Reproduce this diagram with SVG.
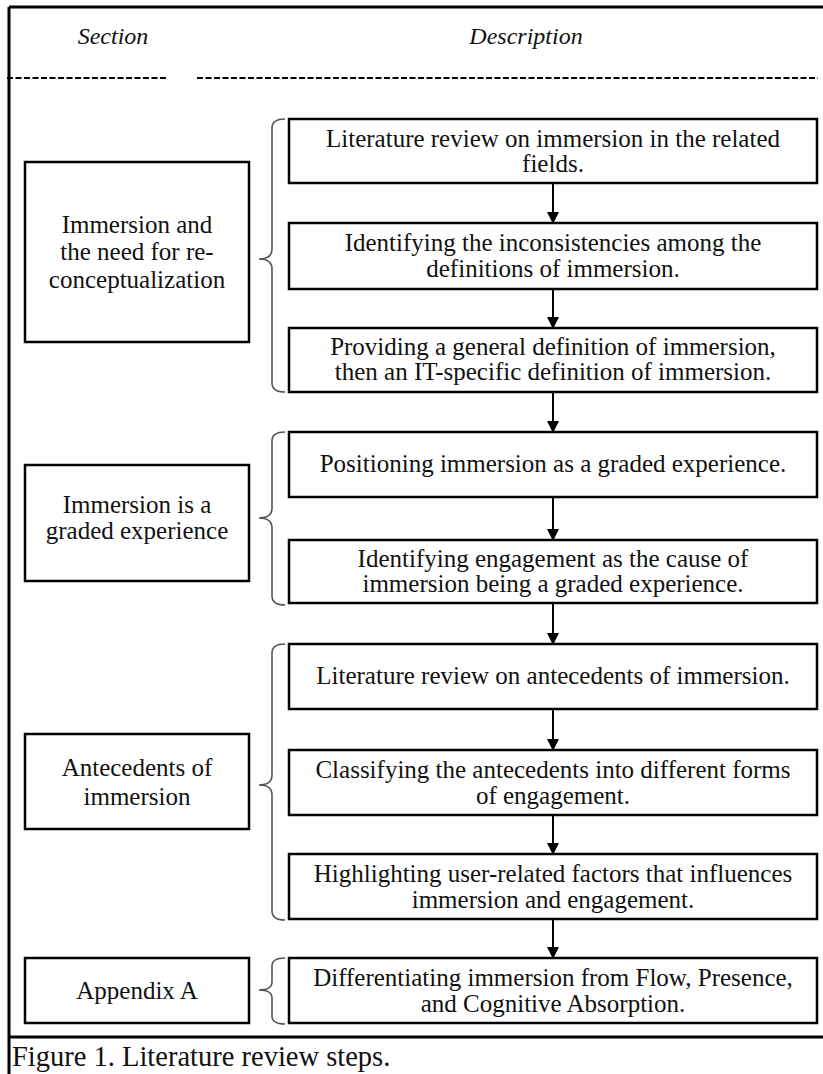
<svg xmlns="http://www.w3.org/2000/svg" width="823" height="1074" viewBox="0 0 823 1074">
  <defs>
    <marker id="arrow" viewBox="0 0 12 12" refX="11" refY="6" markerWidth="12" markerHeight="12" markerUnits="userSpaceOnUse" orient="auto">
      <path d="M0,0 L12,6 L0,12 Z" fill="#000"/>
    </marker>
    <style>
      .box { fill: #fff; stroke: #000; stroke-width: 2.5; }
      .txt { font-family: "Liberation Serif", "Times New Roman", serif; font-size: 25px; fill: #111; text-anchor: middle; }
      .hdr { font-family: "Liberation Serif", "Times New Roman", serif; font-size: 24px; font-style: italic; fill: #111; text-anchor: middle; }
      .cap { font-family: "Liberation Serif", "Times New Roman", serif; font-size: 28.5px; fill: #111; }
      .frame { stroke: #000; stroke-width: 3; fill: none; }
      .dash { stroke: #000; stroke-width: 2; stroke-dasharray: 6 2.5; }
      .brace { fill: none; stroke: #555; stroke-width: 1.6; }
      .conn { stroke: #000; stroke-width: 2; fill: none; marker-end: url(#arrow); }
    </style>
  </defs>
  <rect x="0" y="0" width="823" height="1074" fill="#fff"/>

  <!-- table frame -->
  <path class="frame" d="M9,7 H823 M9,7 V1074 M9,1037 H823"/>

  <!-- column headers -->
  <text class="hdr" x="113" y="44">Section</text>
  <text class="hdr" x="526" y="44">Description</text>
  <line class="dash" x1="7" y1="78" x2="168" y2="78"/>
  <line class="dash" x1="197" y1="78" x2="818" y2="78"/>

  <!-- section boxes -->
  <g id="sec-immersion">
    <rect class="box" x="25" y="162" width="224" height="180"/>
    <text class="txt" x="137" y="233">Immersion and</text>
    <text class="txt" x="137" y="260">the need  for re-</text>
    <text class="txt" x="137" y="288">conceptualization</text>
  </g>
  <g id="sec-graded">
    <rect class="box" x="25" y="465" width="224" height="116"/>
    <text class="txt" x="137" y="513">Immersion is a</text>
    <text class="txt" x="137" y="539">graded experience</text>
  </g>
  <g id="sec-antecedents">
    <rect class="box" x="25" y="734" width="224" height="95"/>
    <text class="txt" x="137" y="776">Antecedents  of</text>
    <text class="txt" x="137" y="805">immersion</text>
  </g>
  <g id="sec-appendix">
    <rect class="box" x="25" y="958" width="224" height="65"/>
    <text class="txt" x="137" y="999">Appendix A</text>
  </g>

  <!-- description steps -->
  <g id="step-1">
    <rect class="box" x="289" y="119" width="528" height="64"/>
    <text class="txt" x="553" y="147">Literature review on immersion in the related</text>
    <text class="txt" x="553" y="172">fields.</text>
  </g>
  <g id="step-2">
    <rect class="box" x="289" y="223" width="528" height="66"/>
    <text class="txt" x="553" y="251">Identifying  the inconsistencies among the</text>
    <text class="txt" x="553" y="277">definitions of immersion.</text>
  </g>
  <g id="step-3">
    <rect class="box" x="289" y="328" width="528" height="64"/>
    <text class="txt" x="553" y="355">Providing a general definition of immersion,</text>
    <text class="txt" x="553" y="380">then an IT-specific definition of immersion.</text>
  </g>
  <g id="step-4">
    <rect class="box" x="289" y="432" width="528" height="65"/>
    <text class="txt" x="553" y="472">Positioning immersion as a graded experience.</text>
  </g>
  <g id="step-5">
    <rect class="box" x="289" y="540" width="528" height="63"/>
    <text class="txt" x="553" y="567">Identifying  engagement as the cause of</text>
    <text class="txt" x="553" y="592">immersion being a graded experience.</text>
  </g>
  <g id="step-6">
    <rect class="box" x="289" y="644" width="528" height="65"/>
    <text class="txt" x="553" y="684">Literature review on antecedents of immersion.</text>
  </g>
  <g id="step-7">
    <rect class="box" x="289" y="750" width="528" height="65"/>
    <text class="txt" x="553" y="778">Classifying the antecedents into different forms</text>
    <text class="txt" x="553" y="804">of engagement.</text>
  </g>
  <g id="step-8">
    <rect class="box" x="289" y="854" width="528" height="65"/>
    <text class="txt" x="553" y="882">Highlighting user-related factors that influences</text>
    <text class="txt" x="553" y="908">immersion and engagement.</text>
  </g>
  <g id="step-9">
    <rect class="box" x="289" y="958" width="528" height="65"/>
    <text class="txt" x="553" y="986">Differentiating immersion from Flow, Presence,</text>
    <text class="txt" x="553" y="1012">and Cognitive Absorption.</text>
  </g>

  <!-- braces grouping the steps of each section -->
  <g id="braces">
    <path class="brace" d="M285,119 Q272,119 272,128 V249 Q272,259 259,259 Q272,259 272,269 V383 Q272,392 285,392"/>
    <path class="brace" d="M285,432 Q272,432 272,441 V508 Q272,518 259,518 Q272,518 272,528 V596 Q272,605 285,605"/>
    <path class="brace" d="M285,644 Q272,644 272,653 V775 Q272,785 259,785 Q272,785 272,795 V911 Q272,920 285,920"/>
    <path class="brace" d="M285,958 Q272,958 272,966 V982 Q272,990 259,990 Q272,990 272,998 V1016 Q272,1024 285,1024"/>
  </g>

  <!-- connectors -->
  <g id="connectors">
    <line class="conn" x1="553" y1="183" x2="553" y2="223"/>
    <line class="conn" x1="553" y1="289" x2="553" y2="328"/>
    <line class="conn" x1="553" y1="392" x2="553" y2="432"/>
    <line class="conn" x1="553" y1="497" x2="553" y2="540"/>
    <line class="conn" x1="553" y1="603" x2="553" y2="644"/>
    <line class="conn" x1="553" y1="709" x2="553" y2="750"/>
    <line class="conn" x1="553" y1="815" x2="553" y2="854"/>
    <line class="conn" x1="553" y1="919" x2="553" y2="958"/>
  </g>

  <!-- caption -->
  <text class="cap" x="12" y="1066">Figure 1. Literature review steps.</text>
</svg>
